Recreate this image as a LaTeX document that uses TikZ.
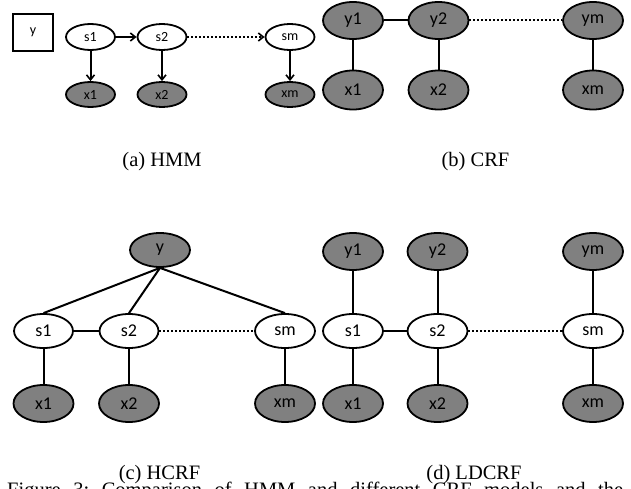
\documentclass[tikz,border=0pt]{standalone}
\usepackage{fontspec}
\setmainfont{Liberation Serif}
\newfontfamily\nodefont{Carlito}
\usetikzlibrary{shapes.geometric,arrows.meta}
\definecolor{obsgray}{RGB}{128,128,128}
\begin{document}
\begin{tikzpicture}[x=1pt,y=-1pt,
  lw/.style={line width=1.8pt},
  nd/.style={ellipse,draw,lw,inner sep=0pt,text=black},
  smallnd/.style={nd,minimum width=49pt,minimum height=26pt,font=\nodefont\fontsize{14}{14}\selectfont},
  bignd/.style={nd,minimum width=60pt,minimum height=37pt,font=\nodefont\fontsize{18}{18}\selectfont},
  obs/.style={fill=obsgray},
  hid/.style={fill=white},
  arr/.style={line width=2pt,-{Straight Barb[length=5pt,width=8pt,line width=1.6pt]}},
  edge/.style={line width=2pt},
  dots/.style={line width=2pt,dotted},
  captxt/.style={font=\fontsize{20.5}{20.5}\selectfont,inner sep=0pt,anchor=base}
]
\clip (0,0) rectangle (631,489);
\fill[white] (0,0) rectangle (631,489);

% (a) HMM
\node[draw,lw,minimum width=40pt,minimum height=37pt,inner sep=0pt,font=\nodefont\fontsize{14}{14}\selectfont] (ay) at (33,32.5) {y};
\node[smallnd,hid] (as1) at (90.5,37) {s1};
\node[smallnd,hid] (as2) at (162,37) {s2};
\node[smallnd,hid] (asm) at (290,37) {sm};
\node[smallnd,obs,minimum height=25pt] (ax1) at (90.5,94.5) {x1};
\node[smallnd,obs,minimum height=25pt] (ax2) at (162,94.5) {x2};
\node[smallnd,obs,minimum height=25pt] (axm) at (290,94.5) {xm};
\draw[arr] (as1) -- (as2);
\draw[arr,dotted] (as2) -- (asm);
\draw[arr] (as1) -- (ax1);
\draw[arr] (as2) -- (ax2);
\draw[arr] (asm) -- (axm);
\node[captxt] (capa) at (162,167) {(a) HMM};

% (b) CRF
\node[bignd,obs] (by1) at (353,20.5) {y1};
\node[bignd,obs] (by2) at (438.5,20.5) {y2};
\node[bignd,obs] (bym) at (593,20.5) {ym};
\node[bignd,obs,minimum height=39pt] (bx1) at (353,90) {x1};
\node[bignd,obs,minimum height=39pt] (bx2) at (438.5,90) {x2};
\node[bignd,obs,minimum height=39pt] (bxm) at (593,90) {xm};
\draw[edge] (by1) -- (by2);
\draw[dots] (by2) -- (bym);
\draw[edge] (by1) -- (bx1);
\draw[edge] (by2) -- (bx2);
\draw[edge] (bym) -- (bxm);
\node[captxt] (capb) at (475.5,167) {(b) CRF};

% (c) HCRF
\node[bignd,obs,minimum height=34pt] (cy) at (160,250) {y};
\node[bignd,hid,minimum width=59pt,minimum height=34pt] (cs1) at (43.5,331) {s1};
\node[bignd,hid,minimum width=59pt,minimum height=34pt] (cs2) at (129,331) {s2};
\node[bignd,hid,minimum height=34pt] (csm) at (285,331) {sm};
\node[bignd,obs] (cx1) at (43.5,403.5) {x1};
\node[bignd,obs] (cx2) at (129,403.5) {x2};
\node[bignd,obs] (cxm) at (285,403.5) {xm};
\draw[edge] (cy.south) -- (cs1.north);
\draw[edge] (cy.south) -- (cs2.north);
\draw[edge] (cy.south) -- (csm.north);
\draw[edge] (cs1) -- (cs2);
\draw[dots] (cs2) -- (csm);
\draw[edge] (cs1) -- (cx1);
\draw[edge] (cs2) -- (cx2);
\draw[edge] (csm) -- (cxm);
\node[captxt] (capc) at (159.5,479) {(c) HCRF};

% (d) LDCRF
\node[bignd,obs] (dy1) at (353,251.5) {y1};
\node[bignd,obs] (dy2) at (437.5,251.5) {y2};
\node[bignd,obs] (dym) at (593,251.5) {ym};
\node[bignd,hid,minimum height=34pt] (ds1) at (353,331) {s1};
\node[bignd,hid,minimum height=34pt] (ds2) at (437.5,331) {s2};
\node[bignd,hid,minimum height=34pt] (dsm) at (593,331) {sm};
\node[bignd,obs] (dx1) at (353,403.5) {x1};
\node[bignd,obs] (dx2) at (437.5,403.5) {x2};
\node[bignd,obs] (dxm) at (593,403.5) {xm};
\draw[edge] (dy1) -- (ds1);
\draw[edge] (dy2) -- (ds2);
\draw[edge] (dym) -- (dsm);
\draw[edge] (ds1) -- (ds2);
\draw[dots] (ds2) -- (dsm);
\draw[edge] (ds1) -- (dx1);
\draw[edge] (ds2) -- (dx2);
\draw[edge] (dsm) -- (dxm);
\node[captxt] (capd) at (474,479) {(d) LDCRF};

% figure caption (cut off at the bottom edge, as in the reference)
\node[captxt,anchor=base west] (figcap) at (7,496.5) {\hbox to 616pt{Figure\hfill 3:\hfill Comparison\hfill of\hfill HMM\hfill and\hfill different\hfill CRF\hfill models\hfill and\hfill the}};
\end{tikzpicture}
\end{document}
